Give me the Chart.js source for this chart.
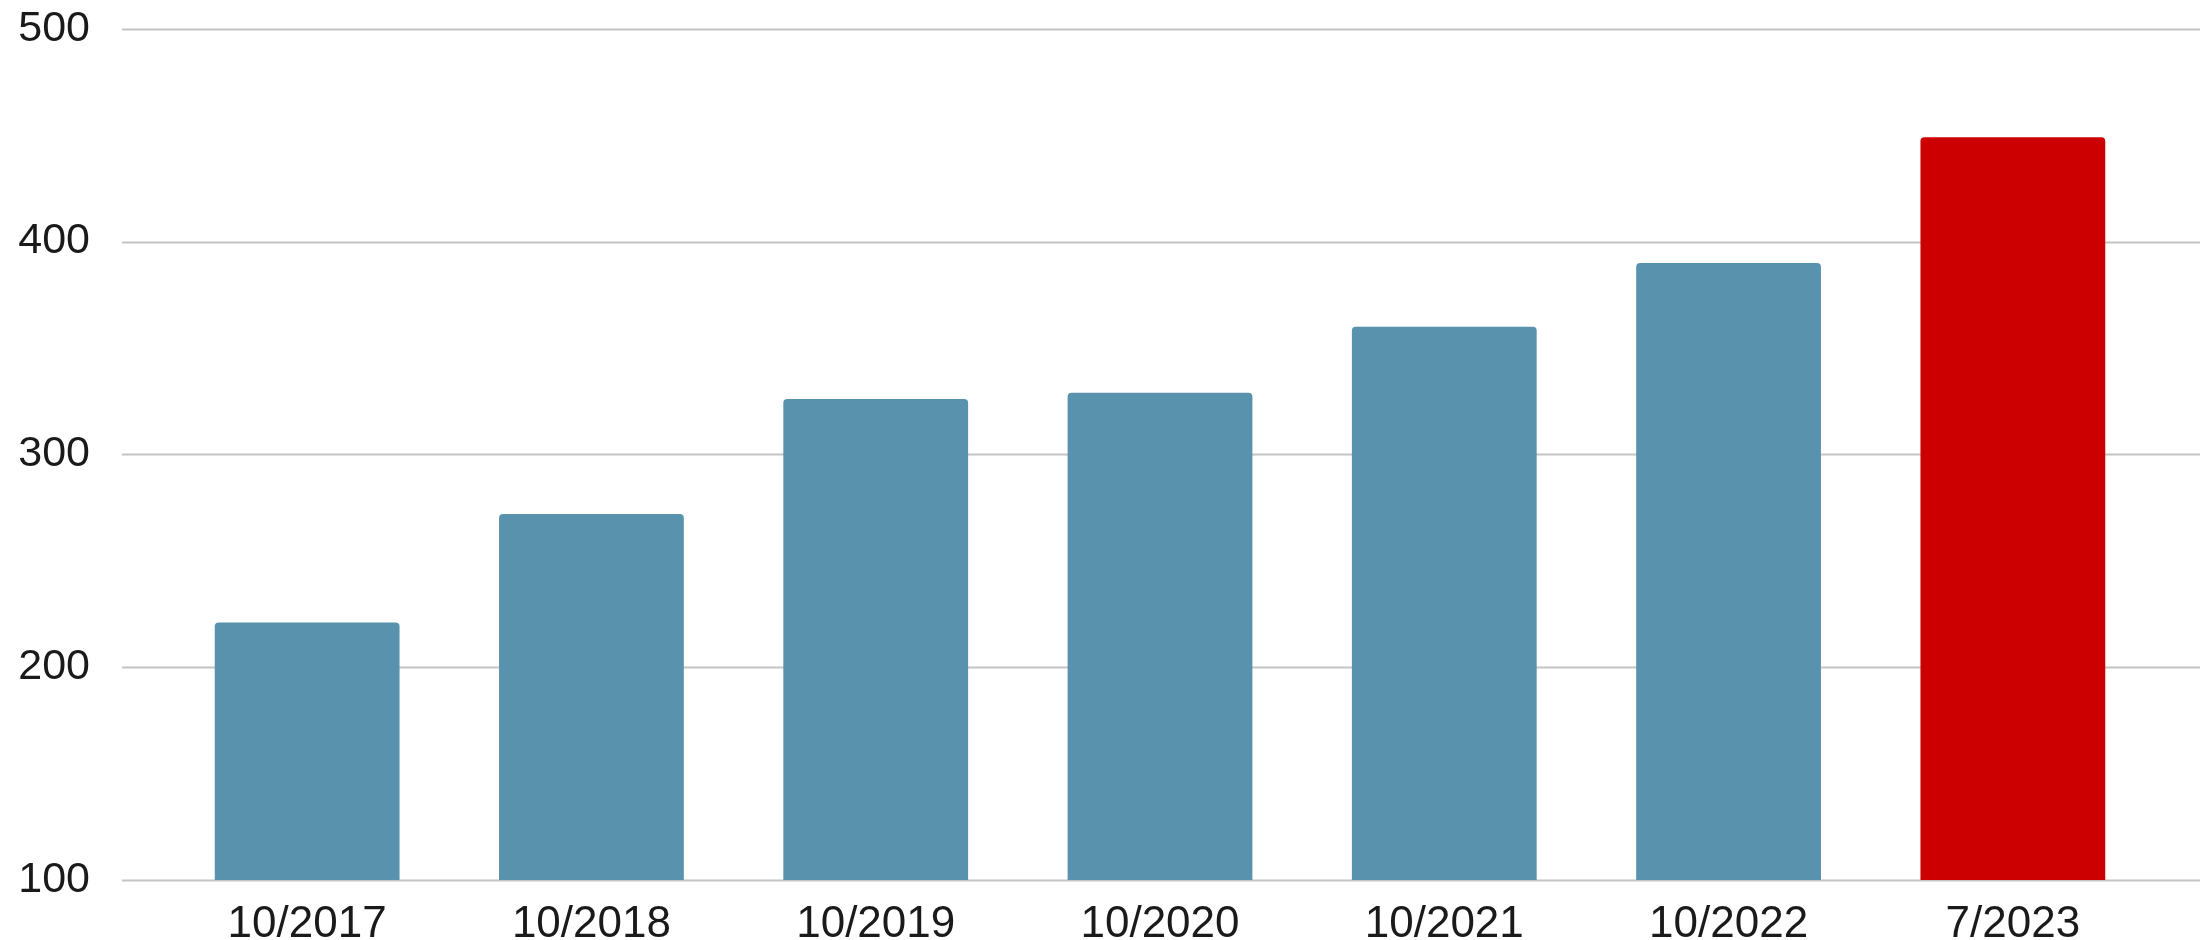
<!DOCTYPE html>
<html>
<head>
<meta charset="utf-8">
<script src="https://cdn.jsdelivr.net/npm/chart.js@4.4.1/dist/chart.umd.min.js"></script>
<style>
    html, body { margin: 0; padding: 0; background: #ffffff; }
    #wrap { width: 2200px; height: 940px; position: relative; }
</style>
</head>
<body>
<div id="wrap"><canvas id="barChart"></canvas></div>
<script>

// ---------------------------
// Data
// ---------------------------

const periods = ["10/2017", "10/2018", "10/2019", "10/2020", "10/2021", "10/2022", "7/2023"];

const values = [221, 272, 326, 329, 360, 390, 449];

const barColors = ["#5892ad", "#5892ad", "#5892ad", "#5892ad", "#5892ad", "#5892ad", "#cc0000"];

const yTicks = [100, 200, 300, 400, 500];


// ---------------------------
// Gridlines that run past the plot area
// ---------------------------

const wideGrid = {

    id: "wideGrid",

    beforeDatasetsDraw(chart) {

        const ctx = chart.ctx;
        const y = chart.scales.y;

        ctx.save();
        ctx.strokeStyle = "#c4c4c4";
        ctx.lineWidth = 2;

        yTicks.forEach(function(v){
            const py = Math.round(y.getPixelForValue(v)) + 0.5;
            ctx.beginPath();
            ctx.moveTo(122, py);
            ctx.lineTo(chart.width, py);
            ctx.stroke();
        });

        ctx.restore();

    }

};


// ---------------------------
// Chart
// ---------------------------

new Chart(document.getElementById("barChart"), {

    type: "bar",

    data: {

        labels: periods,

        datasets: [{

            data: values,

            backgroundColor: barColors,

            borderRadius: { topLeft: 4, topRight: 4 },

            borderSkipped: "bottom",

            barPercentage: 0.65,

            categoryPercentage: 1

        }]

    },

    options: {

        responsive: true,
        maintainAspectRatio: false,
        animation: false,

        layout: {
            padding: { top: 27, right: 45, left: 0, bottom: 0 }
        },

        plugins: {
            legend: { display: false },
            tooltip: { enabled: false }
        },

        scales: {

            x: {
                offset: true,
                grid: { display: false },
                border: { display: false },
                ticks: {
                    color: "#1a1a1a",
                    padding: 10,
                    maxRotation: 0,
                    font: { family: "'Liberation Sans', Arial, sans-serif", size: 44, lineHeight: 1.2 }
                },
                afterFit: function(scale){ scale.height = 60; }
            },

            y: {
                min: 100,
                max: 500,
                grid: {
                    display: true,
                    drawOnChartArea: false,
                    drawTicks: true,
                    tickLength: 72,
                    tickColor: "rgba(0,0,0,0)"
                },
                border: { display: false },
                ticks: {
                    stepSize: 100,
                    color: "#1a1a1a",
                    padding: 3,
                    font: { family: "'Liberation Sans', Arial, sans-serif", size: 43, lineHeight: 1.2 }
                },
                afterFit: function(scale){ scale.width = 165; }
            }

        }

    },

    plugins: [wideGrid]

});

</script>
</body>
</html>
